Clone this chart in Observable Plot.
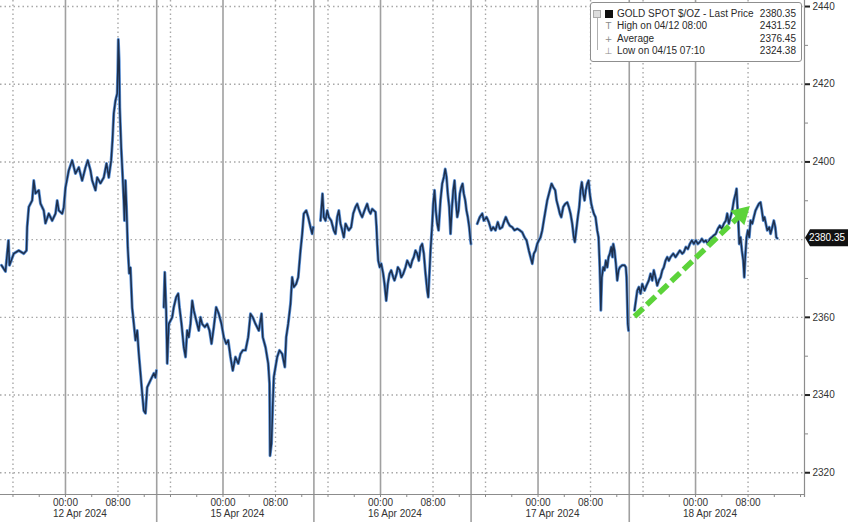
<!DOCTYPE html>
<html>
<head>
<meta charset="utf-8">
<script src="https://cdn.jsdelivr.net/npm/d3@7"></script>
<script src="https://cdn.jsdelivr.net/npm/@observablehq/plot@0.6"></script>
<style>
  body { margin: 0; background: #fff; font-family: "Liberation Sans", Arial, sans-serif; }
  #wrap { position: relative; width: 848px; height: 522px; overflow: hidden; background: #fff; }
  #legend { position: absolute; left: 590px; top: 2px; width: 212px; height: 60px; border: 1px solid #8f8f8f; border-radius: 3px; background: #fff; box-sizing: border-box; font-size: 10px; color: #2a2a2a; }
  #legend .row { position: absolute; left: 0; right: 0; height: 12px; line-height: 12px; white-space: nowrap; }
  #legend .lbl { position: absolute; left: 26px; }
  #legend .val { position: absolute; right: 5px; }
  #legend .ico { position: absolute; left: 13px; width: 9px; text-align: center; color: #8a8a8a; font-family: "DejaVu Sans", sans-serif; font-size: 9px; }
  #legend .bracket { position: absolute; left: 6px; top: 9px; width: 5px; height: 38px; border-left: 1px solid #b0b0b0; }
  #legend .sq { position: absolute; left: 2px; top: 7px; width: 6px; height: 6px; border: 1px solid #aaa; background: #ddd; }
</style>
</head>
<body>
<div id="wrap"></div>
<script>
// ---- Data (trading-hour index: 0 = 12 Apr 2024 00:00, each session day = 24 units, weekend removed) ----
const lastPrice = 2380.35;
const legendRows = [
  ["GOLD SPOT $/OZ  - Last Price", "2380.35"],
  ["High on 04/12 08:00", "2431.52"],
  ["Average", "2376.45"],
  ["Low on 04/15 07:10", "2324.38"]
];
const gridPrices = [2320, 2340, 2360, 2380, 2400, 2420, 2440];
const labeledPriceTicks = [2320, 2340, 2360, 2400, 2420, 2440];
const minorPriceTicks = [2330, 2350, 2370, 2390, 2410, 2430];
const midnightHours = [0, 24, 48, 72, 96];
const eightHours = [8, 32, 56, 80, 104];
const dottedHours = [-8, 8, 16, 32, 40, 56, 64, 80, 88, 104];
const sessionBreaks = [13.9, 37.85, 61.8, 85.9];
const dateLabelHours = [2.2, 26.2, 50.2, 74.2, 98.2];
const dateLabels = ["12 Apr 2024", "15 Apr 2024", "16 Apr 2024", "17 Apr 2024", "18 Apr 2024"];
const minorTimeTicks = [-8, -4, 0, 4, 8, 12, 16, 20, 24, 28, 32, 36, 40, 44, 48, 52, 56, 60, 64, 68, 72, 76, 80, 84, 88, 92, 96, 100, 104, 108, 112];
const trendArrow = { from: [86.7, 2360.2], to: [103.0, 2386.6] };

const session12Apr = [
  [-9.75, 2373.4], [-9.14, 2371.8], [-8.69, 2379.8], [-8.53, 2373.4], [-7.88, 2376.4], [-7.12, 2377.2],
  [-6.35, 2376.4], [-5.94, 2377.2], [-5.84, 2383.2], [-5.59, 2388.4], [-5.07, 2390.1], [-4.83, 2395.2],
  [-4.57, 2391.9], [-4.07, 2392.7], [-3.81, 2389.3], [-3.31, 2387.5], [-3.05, 2384.2], [-2.54, 2386.7],
  [-2.03, 2384.9], [-1.52, 2386.7], [-1.26, 2390.1], [-1.02, 2387.5], [-0.50, 2386.7], [-0.26, 2388.3],
  [0, 2393.4], [0.50, 2397.8], [1.02, 2400.4], [1.52, 2397.0], [2.03, 2398.6], [2.54, 2395.2],
  [3.05, 2398.6], [3.40, 2400.4], [3.81, 2397.8], [4.07, 2395.2], [4.57, 2392.7], [4.83, 2396.0],
  [5.33, 2394.5], [5.84, 2396.0], [6.25, 2399.6], [6.60, 2396.0], [6.96, 2400.4], [7.16, 2405.5],
  [7.36, 2412.5], [7.62, 2415.8], [7.88, 2417.6], [7.97, 2423.5], [8.05, 2431.5], [8.18, 2426.1],
  [8.27, 2414.0], [8.49, 2403.7], [8.69, 2397.0], [8.88, 2390.1], [8.99, 2384.9], [9.14, 2395.2],
  [9.30, 2388.3], [9.49, 2378.0], [9.71, 2371.3], [9.90, 2372.8], [10.16, 2362.5], [10.41, 2358.4],
  [10.67, 2354.1], [10.93, 2356.6], [11.17, 2350.7], [11.43, 2345.6], [11.69, 2340.4], [11.93, 2336.0],
  [12.19, 2335.3], [12.45, 2342.0], [12.95, 2343.8], [13.46, 2345.6], [13.71, 2344.5], [13.85, 2346.3]
];
const session15Apr = [
  [14.98, 2362.6], [15.13, 2371.6], [15.34, 2361.8], [15.50, 2348.1], [15.74, 2358.3], [16.26, 2360.0],
  [16.50, 2362.6], [16.87, 2365.2], [17.17, 2366.1], [17.37, 2362.6], [17.68, 2358.3], [18.03, 2352.3],
  [18.29, 2349.8], [18.54, 2356.6], [18.79, 2354.9], [19.05, 2358.3], [19.31, 2364.3], [19.55, 2361.8],
  [19.92, 2359.2], [20.31, 2356.6], [20.57, 2360.0], [20.83, 2358.3], [21.23, 2357.5], [21.59, 2358.3],
  [21.94, 2356.6], [22.25, 2353.2], [22.60, 2357.5], [22.96, 2362.6], [23.36, 2360.9], [23.77, 2358.3],
  [24.12, 2354.9], [24.49, 2353.2], [24.79, 2354.1], [25.14, 2349.8], [25.49, 2346.3], [25.90, 2349.8],
  [26.32, 2348.1], [26.67, 2350.6], [27.02, 2351.5], [27.43, 2351.5], [27.84, 2354.9], [28.19, 2360.9],
  [28.54, 2360.0], [28.95, 2358.3], [29.46, 2356.6], [29.87, 2360.9], [30.06, 2354.9], [30.48, 2352.3],
  [30.89, 2348.1], [31.09, 2342.9], [31.17, 2324.4], [31.39, 2327.5], [31.59, 2337.8], [31.74, 2344.6],
  [32.00, 2347.2], [32.26, 2349.8], [32.61, 2351.5], [33.02, 2350.6], [33.42, 2347.2], [33.63, 2354.9],
  [33.93, 2358.3], [34.29, 2363.5], [34.54, 2370.3], [34.79, 2367.8], [35.15, 2368.6], [35.46, 2370.3],
  [35.81, 2377.2], [36.07, 2381.5], [36.31, 2386.7], [36.68, 2387.5], [36.98, 2385.8], [37.33, 2383.2],
  [37.59, 2381.5], [37.75, 2383.2]
];
const session16Apr = [
  [38.86, 2384.9], [39.16, 2391.8], [39.36, 2385.8], [39.62, 2384.9], [39.88, 2387.5], [40.12, 2385.8],
  [40.49, 2384.9], [40.88, 2382.4], [41.14, 2381.5], [41.40, 2385.8], [41.65, 2387.5], [41.90, 2384.1],
  [42.16, 2382.4], [42.41, 2380.6], [42.67, 2384.1], [42.93, 2383.2], [43.17, 2382.4], [43.53, 2383.2],
  [43.84, 2386.7], [44.19, 2388.4], [44.45, 2389.2], [44.69, 2387.9], [44.95, 2386.7], [45.21, 2385.8],
  [45.56, 2387.5], [45.97, 2389.2], [46.22, 2387.5], [46.48, 2386.7], [46.73, 2387.9], [46.98, 2387.5],
  [47.24, 2387.1], [47.39, 2383.2], [47.50, 2378.9], [47.65, 2374.6], [47.89, 2372.9], [48.11, 2373.8],
  [48.41, 2371.2], [48.61, 2368.6], [48.87, 2364.3], [49.11, 2368.6], [49.37, 2371.2], [49.63, 2372.1],
  [49.94, 2370.3], [50.13, 2369.5], [50.44, 2371.2], [50.64, 2372.9], [50.94, 2372.1], [51.16, 2370.3],
  [51.46, 2371.2], [51.81, 2372.9], [52.07, 2374.6], [52.31, 2373.8], [52.57, 2372.9], [52.83, 2374.6],
  [53.07, 2375.5], [53.33, 2377.2], [53.59, 2376.4], [53.84, 2374.6], [54.10, 2378.1], [54.35, 2378.9],
  [54.60, 2376.4], [54.86, 2371.2], [55.12, 2366.9], [55.27, 2365.2], [55.42, 2370.3], [55.62, 2377.2],
  [55.88, 2384.1], [56.03, 2389.2], [56.23, 2392.7], [56.43, 2387.5], [56.64, 2384.1], [56.84, 2382.4],
  [57.14, 2390.1], [57.40, 2394.4], [57.65, 2396.1], [57.86, 2398.2], [58.06, 2396.1], [58.25, 2391.8],
  [58.47, 2388.4], [58.67, 2381.5], [58.86, 2387.5], [59.08, 2392.7], [59.28, 2395.2], [59.47, 2390.1],
  [59.69, 2385.8], [59.89, 2387.5], [60.08, 2391.8], [60.30, 2393.5], [60.50, 2394.4], [60.69, 2391.8],
  [60.91, 2390.1], [61.10, 2387.5], [61.30, 2385.8], [61.52, 2383.2], [61.71, 2379.8], [61.78, 2378.9]
];
const session17Apr = [
  [62.74, 2384.1], [63.13, 2385.8], [63.50, 2386.7], [63.74, 2384.9], [64.15, 2385.8], [64.50, 2384.5],
  [64.87, 2382.4], [65.17, 2383.2], [65.52, 2382.4], [65.87, 2384.5], [66.18, 2382.8], [66.54, 2383.2],
  [66.79, 2384.5], [67.09, 2385.8], [67.40, 2384.5], [67.70, 2383.6], [68.07, 2383.2], [68.42, 2382.4],
  [68.83, 2382.8], [69.23, 2382.4], [69.59, 2381.9], [69.94, 2380.6], [70.25, 2379.8], [70.60, 2377.2],
  [70.86, 2375.5], [71.12, 2373.8], [71.36, 2376.4], [71.62, 2377.2], [71.88, 2378.9], [72.12, 2379.8],
  [72.38, 2380.6], [72.64, 2382.4], [72.88, 2384.9], [73.14, 2387.5], [73.40, 2390.1], [73.80, 2392.7],
  [74.06, 2394.4], [74.32, 2393.5], [74.62, 2392.7], [74.82, 2390.1], [75.08, 2388.4], [75.32, 2386.7],
  [75.54, 2385.8], [75.84, 2388.4], [76.14, 2389.2], [76.45, 2389.6], [76.69, 2388.4], [76.95, 2386.7],
  [77.21, 2384.1], [77.45, 2380.6], [77.61, 2379.4], [77.82, 2382.4], [78.06, 2385.8], [78.28, 2388.4],
  [78.48, 2392.7], [78.67, 2394.8], [78.89, 2391.8], [79.09, 2390.1], [79.28, 2392.7], [79.50, 2394.4],
  [79.70, 2395.2], [79.89, 2391.8], [80.11, 2389.2], [80.30, 2387.9], [80.50, 2386.7], [80.76, 2385.8],
  [81.02, 2382.4], [81.22, 2380.6], [81.37, 2374.6], [81.48, 2368.6], [81.57, 2361.8], [81.72, 2370.3],
  [81.94, 2372.9], [82.13, 2372.1], [82.33, 2374.6], [82.55, 2372.9], [82.74, 2375.5], [82.94, 2376.4],
  [83.16, 2378.1], [83.35, 2375.5], [83.46, 2378.9], [83.66, 2377.2], [83.86, 2373.8], [84.07, 2369.5],
  [84.27, 2372.1], [84.47, 2372.9], [84.83, 2373.4], [85.18, 2373.4], [85.38, 2372.9], [85.49, 2370.3],
  [85.59, 2364.3], [85.68, 2358.3], [85.79, 2356.6]
];
const session18Apr = [
  [86.70, 2361.8], [87.12, 2366.9], [87.36, 2367.8], [87.62, 2366.1], [87.88, 2368.6], [88.23, 2366.9],
  [88.53, 2368.2], [88.88, 2369.5], [89.14, 2371.2], [89.40, 2369.5], [89.64, 2372.1], [89.90, 2370.3],
  [90.16, 2368.2], [90.41, 2369.5], [90.67, 2370.3], [90.93, 2372.1], [91.17, 2372.9], [91.43, 2374.6],
  [91.69, 2375.5], [91.93, 2374.6], [92.19, 2375.5], [92.60, 2376.4], [92.95, 2375.5], [93.30, 2376.4],
  [93.61, 2377.2], [93.97, 2376.4], [94.22, 2376.8], [94.52, 2378.1], [94.83, 2377.6], [95.13, 2378.9],
  [95.44, 2379.8], [95.74, 2378.9], [96.05, 2379.8], [96.35, 2378.9], [96.66, 2379.4], [96.96, 2380.2],
  [97.26, 2379.4], [97.57, 2379.8], [97.87, 2378.9], [98.18, 2380.2], [98.48, 2380.6], [98.79, 2381.1],
  [99.09, 2381.5], [99.40, 2382.8], [99.70, 2383.6], [100.01, 2382.8], [100.31, 2384.1], [100.62, 2384.9],
  [100.83, 2386.7], [101.07, 2384.1], [101.33, 2385.8], [101.59, 2387.5], [101.84, 2390.1], [102.10, 2391.8],
  [102.25, 2393.1], [102.36, 2389.2], [102.51, 2384.9], [102.66, 2378.9], [102.86, 2380.6], [103.06, 2377.2],
  [103.27, 2374.6], [103.42, 2370.3], [103.57, 2375.5], [103.77, 2380.6], [103.97, 2382.4], [104.18, 2380.6],
  [104.38, 2384.9], [104.64, 2384.1], [104.88, 2385.8], [105.14, 2387.5], [105.40, 2388.4], [105.64, 2389.2],
  [105.90, 2389.6], [106.10, 2387.5], [106.32, 2384.9], [106.51, 2385.8], [106.71, 2384.1], [106.93, 2382.4],
  [107.23, 2383.2], [107.43, 2381.5], [107.69, 2383.2], [107.93, 2384.9], [108.15, 2383.2], [108.30, 2380.6],
  [108.45, 2380.35]
];

// ---- Build table ----
const sessions = [session12Apr, session15Apr, session16Apr, session17Apr, session18Apr];
const series = sessions.flatMap((s, i) => s.map(([hour, price]) => ({ hour, price, session: i })));
const dateLabelOf = new Map(dateLabelHours.map((h, i) => [h, dateLabels[i]]));

const xDomain = [-9.9, 112.6];
const yDomain = [2314.4, 2441.55];
const green = "#5cd33a";
const fontFamily = "'Liberation Sans', Arial, sans-serif";

const plot = Plot.plot({
  width: 848,
  height: 522,
  marginLeft: 0,
  marginRight: 44,
  marginTop: 0,
  marginBottom: 28,
  x: { domain: xDomain, axis: null, label: null },
  y: { domain: yDomain, axis: null, label: null },
  style: { fontFamily, fontSize: "10px", color: "#333", background: "#fff", overflow: "visible" },
  marks: [
    Plot.ruleY(gridPrices, { stroke: "#a8a8a8", strokeDasharray: "1.5,3", strokeWidth: 1.4 }),
    Plot.ruleX(dottedHours, { stroke: "#a8a8a8", strokeDasharray: "1.5,3", strokeWidth: 1.4 }),
    Plot.ruleX(midnightHours, { stroke: "#a0a0a0", strokeWidth: 1.6 }),
    Plot.ruleX(sessionBreaks, { stroke: "#a0a0a0", strokeWidth: 1.6, insetBottom: -28 }),
    Plot.ruleY([yDomain[0]], { stroke: "#8c8c8c", strokeWidth: 1.2 }),
    Plot.ruleX([xDomain[1]], { stroke: "#8c8c8c", strokeWidth: 1.2, insetBottom: -3 }),
    Plot.line(series, { x: "hour", y: "price", z: "session", stroke: "#5f95da", strokeWidth: 3, strokeLinejoin: "round" }),
    Plot.line(series, { x: "hour", y: "price", z: "session", stroke: "#1d2f4c", strokeWidth: 1.5, strokeLinejoin: "round" }),
    Plot.link([trendArrow], {
      x1: d => d.from[0], y1: d => d.from[1], x2: d => d.to[0], y2: d => d.to[1],
      stroke: green, strokeWidth: 5.5, strokeDasharray: "12,5", strokeLinecap: "butt"
    }),
    Plot.dot([trendArrow], { x: d => d.to[0], y: d => d.to[1], symbol: "triangle", r: 7.5, fill: green, stroke: "none", rotate: 46 }),
    // Right price axis
    Plot.axisY(labeledPriceTicks, { anchor: "right", tickSize: 5, tickPadding: 3, strokeWidth: 2, color: "#222", fill: "#333", fontSize: 10, tickFormat: d => String(d), label: null }),
    Plot.axisY(minorPriceTicks, { anchor: "right", tickSize: 3, tickFormat: () => "", color: "#888", label: null }),
    // Bottom time axis
    Plot.axisX(minorTimeTicks, { anchor: "bottom", tickSize: 3, tickFormat: () => "", color: "#888", label: null }),
    Plot.axisX(midnightHours, { anchor: "bottom", tickSize: 0, tickPadding: 4, tickFormat: () => "00:00", fill: "#333", fontSize: 10, label: null }),
    Plot.axisX(eightHours, { anchor: "bottom", tickSize: 0, tickPadding: 4, tickFormat: () => "08:00", fill: "#333", fontSize: 10, label: null }),
    Plot.axisX(dateLabelHours, { anchor: "bottom", tickSize: 0, tickPadding: 15, tickFormat: d => dateLabelOf.get(d), fill: "#333", fontSize: 10, label: null })
  ]
});

const wrap = document.getElementById("wrap");
wrap.appendChild(plot);

// Last-price badge on the right axis, positioned with the plot's own y scale
const yScale = plot.scale("y");
const yy = yScale.apply(lastPrice);
const xr = 848 - 44;
const svg = d3.select(plot);
svg.append("path")
  .attr("d", `M${xr + 1},${yy} L${xr + 6},${yy - 8.5} L848,${yy - 8.5} L848,${yy + 8.5} L${xr + 6},${yy + 8.5} Z`)
  .attr("fill", "#111");
svg.append("text")
  .attr("x", 827).attr("y", yy).attr("dy", "0.35em")
  .attr("text-anchor", "middle").attr("fill", "#fff")
  .attr("font-size", 10).attr("font-family", fontFamily)
  .text(lastPrice.toFixed(2));

// Legend box (top-right, inside the plot area)
const legend = document.createElement("div");
legend.id = "legend";
const icons = ["", "T", "+", "\u22A5"];
let html = `<div class="bracket"></div><div class="sq"></div>`;
legendRows.forEach(([label, value], i) => {
  const top = 5 + i * 12.3;
  const icon = i === 0
    ? `<span class="ico" style="top:2px;height:8px;width:8px;left:14px;background:#111;"></span>`
    : `<span class="ico">${icons[i]}</span>`;
  html += `<div class="row" style="top:${top}px">${icon}<span class="lbl">${label}</span><span class="val">${value}</span></div>`;
});
legend.innerHTML = html;
wrap.appendChild(legend);
</script>
</body>
</html>
